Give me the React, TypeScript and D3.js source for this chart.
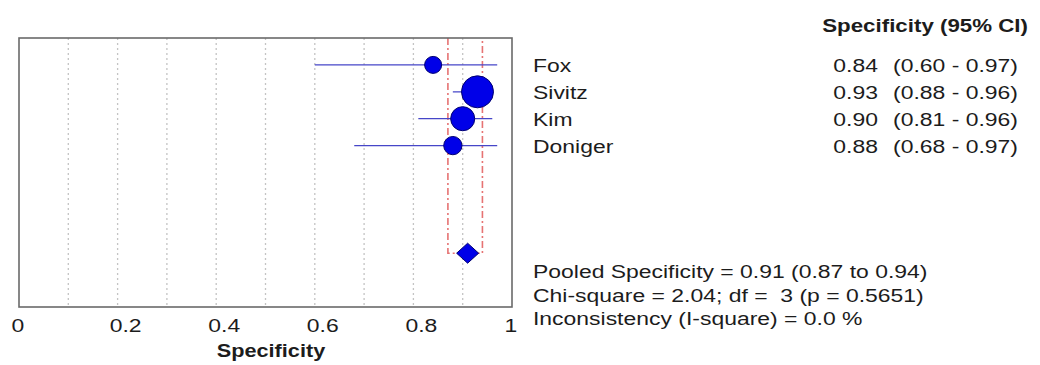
import React from "react";
import * as d3 from "d3";

const studies = ["Fox", "Sivitz", "Kim", "Doniger"];
const specificity = [0.84, 0.93, 0.90, 0.88];
const ciLow = [0.60, 0.88, 0.81, 0.68];
const ciHigh = [0.97, 0.96, 0.96, 0.97];
const studyWeight = [13, 46, 26, 15];
const pooled = 0.91;
const pooledLow = 0.87;
const pooledHigh = 0.94;
const xTicks = [0, 0.2, 0.4, 0.6, 0.8, 1];
const xTickLabels = ["0", "0.2", "0.4", "0.6", "0.8", "1"];
const gridValues = [0.1, 0.2, 0.3, 0.4, 0.5, 0.6, 0.7, 0.8, 0.9];
const headerText = "Specificity (95% CI)";
const axisTitle = "Specificity";
const footerLines = [
  "Pooled Specificity = 0.91 (0.87 to 0.94)",
  "Chi-square = 2.04; df =  3 (p = 0.5651)",
  "Inconsistency (I-square) = 0.0 %",
];

const W = 1040;
const H = 365;
const PL = 19, PR = 512, PT = 38, PB = 307;
const SX = 1.24;
const FONT = "'Liberation Sans', Arial, sans-serif";
const TEXT_COLOR = "#1c1c1c";

function SText({ x, y, anchor = "start", size = 18.5, bold = false, children }: any) {
  return (
    <g transform={`translate(${x},${y}) scale(${SX},1)`}>
      <text
        x={0}
        y={0}
        textAnchor={anchor}
        fontFamily={FONT}
        fontSize={size}
        fontWeight={bold ? "bold" : "normal"}
        fill={TEXT_COLOR}
        style={{ whiteSpace: "pre" }}
      >
        {children}
      </text>
    </g>
  );
}

export default function App() {
  const x = d3.scaleLinear().domain([0, 1]).range([PL, PR]);
  const y = d3.scaleLinear().domain([0, 10]).range([PT, PB]);
  const rowY = (i: number) => y(i + 1);
  const r = d3.scaleSqrt().domain([0, d3.max(studyWeight) as number]).range([0, 16]);
  const pooledRow = 7;
  const py = rowY(pooledRow);
  const px = x(pooled);

  const redPath = d3.line()([
    [x(pooledLow), PT],
    [x(pooledLow), py],
    [x(pooledHigh), py],
    [x(pooledHigh), PT],
  ]) as string;

  const diamond = `M${px - 11},${py} L${px},${py - 10} L${px + 11},${py} L${px},${py + 10} Z`;

  return (
    <svg
      width={W}
      height={H}
      style={{ position: "absolute", left: 0, top: 0, background: "#fff" }}
    >
      <rect x={0} y={0} width={W} height={H} fill="#fff" />
      {gridValues.map((g) => (
        <line
          key={g}
          x1={x(g)}
          x2={x(g)}
          y1={PT}
          y2={PB}
          stroke="#c4c4c4"
          strokeWidth={1.3}
          strokeDasharray="2,3"
        />
      ))}
      <path
        d={redPath}
        fill="none"
        stroke="#e25a5a"
        strokeWidth={1.6}
        strokeOpacity={0.85}
        strokeDasharray="7,3,2,3"
      />
      {studies.map((s, i) => (
        <line
          key={"ci" + s}
          x1={x(ciLow[i])}
          x2={x(ciHigh[i])}
          y1={rowY(i)}
          y2={rowY(i)}
          stroke="#4646c8"
          strokeWidth={1.3}
        />
      ))}
      {studies.map((s, i) => (
        <circle
          key={"pt" + s}
          cx={x(specificity[i])}
          cy={rowY(i)}
          r={r(studyWeight[i])}
          fill="#0000e8"
          stroke="#000070"
          strokeWidth={1}
        />
      ))}
      <path d={diamond} fill="#0000e8" stroke="#000070" strokeWidth={1} />
      <rect
        x={PL}
        y={PT}
        width={PR - PL}
        height={PB - PT}
        fill="none"
        stroke="#6a6a6a"
        strokeWidth={1.6}
      />
      {xTicks.map((t, i) => (
        <SText
          key={"tk" + t}
          x={x(t) + (i === 0 || i === xTicks.length - 1 ? -1 : 8)}
          y={332}
          anchor="middle"
        >
          {xTickLabels[i]}
        </SText>
      ))}
      <SText x={271} y={357} anchor="middle" size={17.5} bold>
        {axisTitle}
      </SText>
      <SText x={1028} y={32} anchor="end" size={18} bold>
        {headerText}
      </SText>
      {studies.map((s, i) => (
        <g key={"tx" + s}>
          <SText x={533} y={rowY(i) + 7}>{s}</SText>
          <SText x={878} y={rowY(i) + 7} anchor="end">
            {specificity[i].toFixed(2)}
          </SText>
          <SText x={893} y={rowY(i) + 7}>
            {`(${ciLow[i].toFixed(2)} - ${ciHigh[i].toFixed(2)})`}
          </SText>
        </g>
      ))}
      {footerLines.map((l, i) => (
        <SText key={"ft" + i} x={533} y={278 + i * 23.5}>
          {l}
        </SText>
      ))}
    </svg>
  );
}
